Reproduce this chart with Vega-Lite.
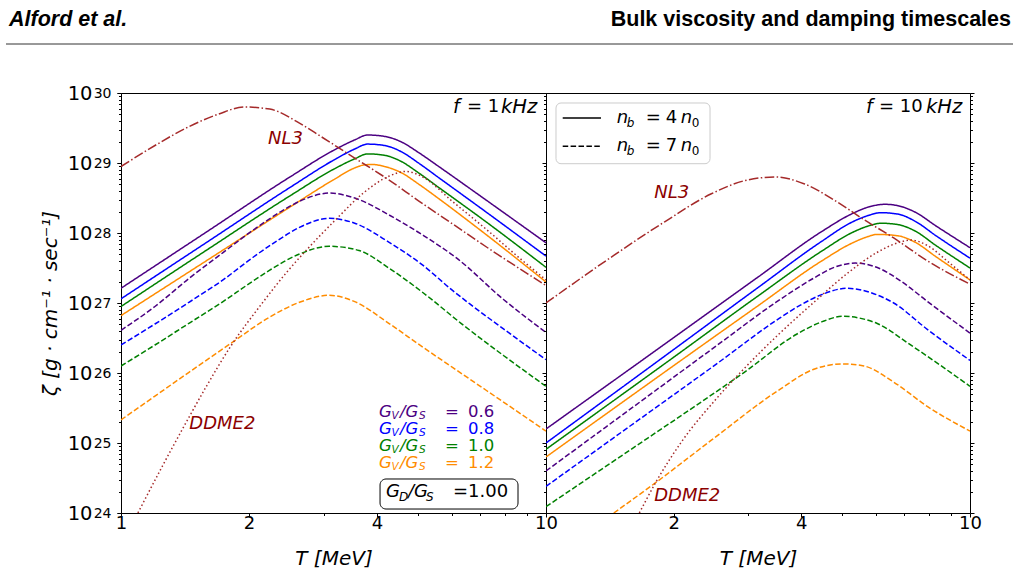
{
  "$schema": "https://vega.github.io/schema/vega-lite/v6.json",
  "background": "white",
  "padding": {"left": 5, "top": 8, "right": 5, "bottom": 5},
  "spacing": 0,
  "bounds": "flush",
  "datasets": {
    "curves": [
      {"panel": "1kHz", "ratio": "0.6", "curve": "4n0", "T": 1, "zeta": 1.622e27},
      {"panel": "1kHz", "ratio": "0.6", "curve": "4n0", "T": 1.585, "zeta": 1.023e28},
      {"panel": "1kHz", "ratio": "0.6", "curve": "4n0", "T": 2.512, "zeta": 6.457e28},
      {"panel": "1kHz", "ratio": "0.6", "curve": "4n0", "T": 3.162, "zeta": 1.514e29},
      {"panel": "1kHz", "ratio": "0.6", "curve": "4n0", "T": 3.548, "zeta": 2.138e29},
      {"panel": "1kHz", "ratio": "0.6", "curve": "4n0", "T": 3.802, "zeta": 2.512e29},
      {"panel": "1kHz", "ratio": "0.6", "curve": "4n0", "T": 4.169, "zeta": 2.399e29},
      {"panel": "1kHz", "ratio": "0.6", "curve": "4n0", "T": 4.571, "zeta": 1.995e29},
      {"panel": "1kHz", "ratio": "0.6", "curve": "4n0", "T": 5.012, "zeta": 1.413e29},
      {"panel": "1kHz", "ratio": "0.6", "curve": "4n0", "T": 5.623, "zeta": 8.71e28},
      {"panel": "1kHz", "ratio": "0.6", "curve": "4n0", "T": 7.079, "zeta": 3.236e28},
      {"panel": "1kHz", "ratio": "0.6", "curve": "4n0", "T": 10, "zeta": 7.244e27},

      {"panel": "1kHz", "ratio": "0.8", "curve": "4n0", "T": 1, "zeta": 1.148e27},
      {"panel": "1kHz", "ratio": "0.8", "curve": "4n0", "T": 1.585, "zeta": 7.244e27},
      {"panel": "1kHz", "ratio": "0.8", "curve": "4n0", "T": 2.512, "zeta": 4.571e28},
      {"panel": "1kHz", "ratio": "0.8", "curve": "4n0", "T": 3.162, "zeta": 1.096e29},
      {"panel": "1kHz", "ratio": "0.8", "curve": "4n0", "T": 3.548, "zeta": 1.585e29},
      {"panel": "1kHz", "ratio": "0.8", "curve": "4n0", "T": 3.802, "zeta": 1.862e29},
      {"panel": "1kHz", "ratio": "0.8", "curve": "4n0", "T": 4.169, "zeta": 1.778e29},
      {"panel": "1kHz", "ratio": "0.8", "curve": "4n0", "T": 4.571, "zeta": 1.445e29},
      {"panel": "1kHz", "ratio": "0.8", "curve": "4n0", "T": 5.012, "zeta": 1.0e29},
      {"panel": "1kHz", "ratio": "0.8", "curve": "4n0", "T": 5.623, "zeta": 6.026e28},
      {"panel": "1kHz", "ratio": "0.8", "curve": "4n0", "T": 7.079, "zeta": 2.188e28},
      {"panel": "1kHz", "ratio": "0.8", "curve": "4n0", "T": 10, "zeta": 4.677e27},

      {"panel": "1kHz", "ratio": "1.0", "curve": "4n0", "T": 1, "zeta": 8.913e26},
      {"panel": "1kHz", "ratio": "1.0", "curve": "4n0", "T": 1.585, "zeta": 5.623e27},
      {"panel": "1kHz", "ratio": "1.0", "curve": "4n0", "T": 2.512, "zeta": 3.467e28},
      {"panel": "1kHz", "ratio": "1.0", "curve": "4n0", "T": 3.162, "zeta": 8.128e28},
      {"panel": "1kHz", "ratio": "1.0", "curve": "4n0", "T": 3.548, "zeta": 1.148e29},
      {"panel": "1kHz", "ratio": "1.0", "curve": "4n0", "T": 3.802, "zeta": 1.349e29},
      {"panel": "1kHz", "ratio": "1.0", "curve": "4n0", "T": 4.169, "zeta": 1.288e29},
      {"panel": "1kHz", "ratio": "1.0", "curve": "4n0", "T": 4.571, "zeta": 1.047e29},
      {"panel": "1kHz", "ratio": "1.0", "curve": "4n0", "T": 5.012, "zeta": 7.244e28},
      {"panel": "1kHz", "ratio": "1.0", "curve": "4n0", "T": 5.623, "zeta": 4.365e28},
      {"panel": "1kHz", "ratio": "1.0", "curve": "4n0", "T": 7.079, "zeta": 1.585e28},
      {"panel": "1kHz", "ratio": "1.0", "curve": "4n0", "T": 10, "zeta": 3.236e27},

      {"panel": "1kHz", "ratio": "1.2", "curve": "4n0", "T": 1, "zeta": 6.607e26},
      {"panel": "1kHz", "ratio": "1.2", "curve": "4n0", "T": 1.585, "zeta": 3.981e27},
      {"panel": "1kHz", "ratio": "1.2", "curve": "4n0", "T": 2.512, "zeta": 2.399e28},
      {"panel": "1kHz", "ratio": "1.2", "curve": "4n0", "T": 3.162, "zeta": 5.754e28},
      {"panel": "1kHz", "ratio": "1.2", "curve": "4n0", "T": 3.548, "zeta": 8.511e28},
      {"panel": "1kHz", "ratio": "1.2", "curve": "4n0", "T": 3.715, "zeta": 9.333e28},
      {"panel": "1kHz", "ratio": "1.2", "curve": "4n0", "T": 3.89, "zeta": 9.55e28},
      {"panel": "1kHz", "ratio": "1.2", "curve": "4n0", "T": 4.169, "zeta": 8.913e28},
      {"panel": "1kHz", "ratio": "1.2", "curve": "4n0", "T": 4.571, "zeta": 7.244e28},
      {"panel": "1kHz", "ratio": "1.2", "curve": "4n0", "T": 5.012, "zeta": 5.012e28},
      {"panel": "1kHz", "ratio": "1.2", "curve": "4n0", "T": 5.623, "zeta": 3.02e28},
      {"panel": "1kHz", "ratio": "1.2", "curve": "4n0", "T": 7.079, "zeta": 1.047e28},
      {"panel": "1kHz", "ratio": "1.2", "curve": "4n0", "T": 10, "zeta": 1.995e27},

      {"panel": "1kHz", "ratio": "0.6", "curve": "7n0", "T": 1, "zeta": 4.074e26},
      {"panel": "1kHz", "ratio": "0.6", "curve": "7n0", "T": 1.202, "zeta": 8.913e26},
      {"panel": "1kHz", "ratio": "0.6", "curve": "7n0", "T": 1.445, "zeta": 2.239e27},
      {"panel": "1kHz", "ratio": "0.6", "curve": "7n0", "T": 1.738, "zeta": 5.248e27},
      {"panel": "1kHz", "ratio": "0.6", "curve": "7n0", "T": 2.089, "zeta": 1.202e28},
      {"panel": "1kHz", "ratio": "0.6", "curve": "7n0", "T": 2.399, "zeta": 2.089e28},
      {"panel": "1kHz", "ratio": "0.6", "curve": "7n0", "T": 2.692, "zeta": 3.02e28},
      {"panel": "1kHz", "ratio": "0.6", "curve": "7n0", "T": 3.09, "zeta": 3.715e28},
      {"panel": "1kHz", "ratio": "0.6", "curve": "7n0", "T": 3.548, "zeta": 3.162e28},
      {"panel": "1kHz", "ratio": "0.6", "curve": "7n0", "T": 4.266, "zeta": 1.82e28},
      {"panel": "1kHz", "ratio": "0.6", "curve": "7n0", "T": 5.129, "zeta": 9.333e27},
      {"panel": "1kHz", "ratio": "0.6", "curve": "7n0", "T": 6.166, "zeta": 4.365e27},
      {"panel": "1kHz", "ratio": "0.6", "curve": "7n0", "T": 7.943, "zeta": 1.122e27},
      {"panel": "1kHz", "ratio": "0.6", "curve": "7n0", "T": 10, "zeta": 3.802e26},

      {"panel": "1kHz", "ratio": "0.8", "curve": "7n0", "T": 1, "zeta": 2.512e26},
      {"panel": "1kHz", "ratio": "0.8", "curve": "7n0", "T": 1.202, "zeta": 5.012e26},
      {"panel": "1kHz", "ratio": "0.8", "curve": "7n0", "T": 1.445, "zeta": 1.023e27},
      {"panel": "1kHz", "ratio": "0.8", "curve": "7n0", "T": 1.738, "zeta": 2.138e27},
      {"panel": "1kHz", "ratio": "0.8", "curve": "7n0", "T": 2.042, "zeta": 4.467e27},
      {"panel": "1kHz", "ratio": "0.8", "curve": "7n0", "T": 2.344, "zeta": 7.943e27},
      {"panel": "1kHz", "ratio": "0.8", "curve": "7n0", "T": 2.63, "zeta": 1.202e28},
      {"panel": "1kHz", "ratio": "0.8", "curve": "7n0", "T": 3.09, "zeta": 1.622e28},
      {"panel": "1kHz", "ratio": "0.8", "curve": "7n0", "T": 3.548, "zeta": 1.38e28},
      {"panel": "1kHz", "ratio": "0.8", "curve": "7n0", "T": 4.266, "zeta": 7.413e27},
      {"panel": "1kHz", "ratio": "0.8", "curve": "7n0", "T": 5.129, "zeta": 3.467e27},
      {"panel": "1kHz", "ratio": "0.8", "curve": "7n0", "T": 6.026, "zeta": 1.514e27},
      {"panel": "1kHz", "ratio": "0.8", "curve": "7n0", "T": 6.607, "zeta": 9.772e26},
      {"panel": "1kHz", "ratio": "0.8", "curve": "7n0", "T": 7.943, "zeta": 4.266e26},
      {"panel": "1kHz", "ratio": "0.8", "curve": "7n0", "T": 10, "zeta": 1.549e26},

      {"panel": "1kHz", "ratio": "1.0", "curve": "7n0", "T": 1, "zeta": 1.259e26},
      {"panel": "1kHz", "ratio": "1.0", "curve": "7n0", "T": 1.202, "zeta": 2.512e26},
      {"panel": "1kHz", "ratio": "1.0", "curve": "7n0", "T": 1.445, "zeta": 5.129e26},
      {"panel": "1kHz", "ratio": "1.0", "curve": "7n0", "T": 1.738, "zeta": 1.047e27},
      {"panel": "1kHz", "ratio": "1.0", "curve": "7n0", "T": 1.995, "zeta": 1.862e27},
      {"panel": "1kHz", "ratio": "1.0", "curve": "7n0", "T": 2.239, "zeta": 2.951e27},
      {"panel": "1kHz", "ratio": "1.0", "curve": "7n0", "T": 2.63, "zeta": 5.012e27},
      {"panel": "1kHz", "ratio": "1.0", "curve": "7n0", "T": 3.09, "zeta": 6.457e27},
      {"panel": "1kHz", "ratio": "1.0", "curve": "7n0", "T": 3.631, "zeta": 5.623e27},
      {"panel": "1kHz", "ratio": "1.0", "curve": "7n0", "T": 4.266, "zeta": 3.162e27},
      {"panel": "1kHz", "ratio": "1.0", "curve": "7n0", "T": 5.129, "zeta": 1.413e27},
      {"panel": "1kHz", "ratio": "1.0", "curve": "7n0", "T": 6.31, "zeta": 5.129e26},
      {"panel": "1kHz", "ratio": "1.0", "curve": "7n0", "T": 7.943, "zeta": 1.778e26},
      {"panel": "1kHz", "ratio": "1.0", "curve": "7n0", "T": 10, "zeta": 6.457e25},

      {"panel": "1kHz", "ratio": "1.2", "curve": "7n0", "T": 1, "zeta": 2.138e25},
      {"panel": "1kHz", "ratio": "1.2", "curve": "7n0", "T": 1.202, "zeta": 4.677e25},
      {"panel": "1kHz", "ratio": "1.2", "curve": "7n0", "T": 1.445, "zeta": 1.023e26},
      {"panel": "1kHz", "ratio": "1.2", "curve": "7n0", "T": 1.82, "zeta": 2.692e26},
      {"panel": "1kHz", "ratio": "1.2", "curve": "7n0", "T": 2.239, "zeta": 6.31e26},
      {"panel": "1kHz", "ratio": "1.2", "curve": "7n0", "T": 2.63, "zeta": 1.023e27},
      {"panel": "1kHz", "ratio": "1.2", "curve": "7n0", "T": 3.09, "zeta": 1.288e27},
      {"panel": "1kHz", "ratio": "1.2", "curve": "7n0", "T": 3.548, "zeta": 1.047e27},
      {"panel": "1kHz", "ratio": "1.2", "curve": "7n0", "T": 4.266, "zeta": 5.129e26},
      {"panel": "1kHz", "ratio": "1.2", "curve": "7n0", "T": 5.129, "zeta": 2.344e26},
      {"panel": "1kHz", "ratio": "1.2", "curve": "7n0", "T": 6.026, "zeta": 1.202e26},
      {"panel": "1kHz", "ratio": "1.2", "curve": "7n0", "T": 7.244, "zeta": 5.623e25},
      {"panel": "1kHz", "ratio": "1.2", "curve": "7n0", "T": 10, "zeta": 1.479e25},

      {"panel": "1kHz", "ratio": "NL3", "curve": "NL3", "T": 1, "zeta": 8.913e28},
      {"panel": "1kHz", "ratio": "NL3", "curve": "NL3", "T": 1.202, "zeta": 1.778e29},
      {"panel": "1kHz", "ratio": "NL3", "curve": "NL3", "T": 1.445, "zeta": 3.311e29},
      {"panel": "1kHz", "ratio": "NL3", "curve": "NL3", "T": 1.698, "zeta": 5.012e29},
      {"panel": "1kHz", "ratio": "NL3", "curve": "NL3", "T": 1.95, "zeta": 6.31e29},
      {"panel": "1kHz", "ratio": "NL3", "curve": "NL3", "T": 2.239, "zeta": 5.888e29},
      {"panel": "1kHz", "ratio": "NL3", "curve": "NL3", "T": 2.63, "zeta": 3.715e29},
      {"panel": "1kHz", "ratio": "NL3", "curve": "NL3", "T": 2.951, "zeta": 2.399e29},
      {"panel": "1kHz", "ratio": "NL3", "curve": "NL3", "T": 3.548, "zeta": 1.175e29},
      {"panel": "1kHz", "ratio": "NL3", "curve": "NL3", "T": 4.266, "zeta": 5.754e28},
      {"panel": "1kHz", "ratio": "NL3", "curve": "NL3", "T": 5.012, "zeta": 2.884e28},
      {"panel": "1kHz", "ratio": "NL3", "curve": "NL3", "T": 6.026, "zeta": 1.349e28},
      {"panel": "1kHz", "ratio": "NL3", "curve": "NL3", "T": 7.244, "zeta": 6.31e27},
      {"panel": "1kHz", "ratio": "NL3", "curve": "NL3", "T": 10, "zeta": 1.778e27},

      {"panel": "1kHz", "ratio": "DDME2", "curve": "DDME2", "T": 1.096, "zeta": 1.0e24},
      {"panel": "1kHz", "ratio": "DDME2", "curve": "DDME2", "T": 1.259, "zeta": 5.012e24},
      {"panel": "1kHz", "ratio": "DDME2", "curve": "DDME2", "T": 1.413, "zeta": 1.82e25},
      {"panel": "1kHz", "ratio": "DDME2", "curve": "DDME2", "T": 1.585, "zeta": 6.31e25},
      {"panel": "1kHz", "ratio": "DDME2", "curve": "DDME2", "T": 1.82, "zeta": 2.512e26},
      {"panel": "1kHz", "ratio": "DDME2", "curve": "DDME2", "T": 2.138, "zeta": 9.55e26},
      {"panel": "1kHz", "ratio": "DDME2", "curve": "DDME2", "T": 2.455, "zeta": 2.754e27},
      {"panel": "1kHz", "ratio": "DDME2", "curve": "DDME2", "T": 2.754, "zeta": 6.026e27},
      {"panel": "1kHz", "ratio": "DDME2", "curve": "DDME2", "T": 3.236, "zeta": 1.66e28},
      {"panel": "1kHz", "ratio": "DDME2", "curve": "DDME2", "T": 3.715, "zeta": 3.715e28},
      {"panel": "1kHz", "ratio": "DDME2", "curve": "DDME2", "T": 4.266, "zeta": 6.457e28},
      {"panel": "1kHz", "ratio": "DDME2", "curve": "DDME2", "T": 4.677, "zeta": 7.586e28},
      {"panel": "1kHz", "ratio": "DDME2", "curve": "DDME2", "T": 5.129, "zeta": 6.31e28},
      {"panel": "1kHz", "ratio": "DDME2", "curve": "DDME2", "T": 6.026, "zeta": 2.818e28},
      {"panel": "1kHz", "ratio": "DDME2", "curve": "DDME2", "T": 7.244, "zeta": 1.122e28},
      {"panel": "1kHz", "ratio": "DDME2", "curve": "DDME2", "T": 8.71, "zeta": 4.266e27},
      {"panel": "1kHz", "ratio": "DDME2", "curve": "DDME2", "T": 10, "zeta": 2.138e27},

      {"panel": "10kHz", "ratio": "0.6", "curve": "4n0", "T": 1, "zeta": 1.585e25},
      {"panel": "10kHz", "ratio": "0.6", "curve": "4n0", "T": 1.995, "zeta": 3.162e26},
      {"panel": "10kHz", "ratio": "0.6", "curve": "4n0", "T": 3.162, "zeta": 2.344e27},
      {"panel": "10kHz", "ratio": "0.6", "curve": "4n0", "T": 4.467, "zeta": 1.047e28},
      {"panel": "10kHz", "ratio": "0.6", "curve": "4n0", "T": 5.248, "zeta": 1.862e28},
      {"panel": "10kHz", "ratio": "0.6", "curve": "4n0", "T": 5.754, "zeta": 2.344e28},
      {"panel": "10kHz", "ratio": "0.6", "curve": "4n0", "T": 6.31, "zeta": 2.57e28},
      {"panel": "10kHz", "ratio": "0.6", "curve": "4n0", "T": 6.761, "zeta": 2.455e28},
      {"panel": "10kHz", "ratio": "0.6", "curve": "4n0", "T": 7.413, "zeta": 1.995e28},
      {"panel": "10kHz", "ratio": "0.6", "curve": "4n0", "T": 8.318, "zeta": 1.259e28},
      {"panel": "10kHz", "ratio": "0.6", "curve": "4n0", "T": 10, "zeta": 6.166e27},

      {"panel": "10kHz", "ratio": "0.8", "curve": "4n0", "T": 1, "zeta": 1.0e25},
      {"panel": "10kHz", "ratio": "0.8", "curve": "4n0", "T": 1.995, "zeta": 2.138e26},
      {"panel": "10kHz", "ratio": "0.8", "curve": "4n0", "T": 3.162, "zeta": 1.66e27},
      {"panel": "10kHz", "ratio": "0.8", "curve": "4n0", "T": 4.467, "zeta": 7.586e27},
      {"panel": "10kHz", "ratio": "0.8", "curve": "4n0", "T": 5.248, "zeta": 1.413e28},
      {"panel": "10kHz", "ratio": "0.8", "curve": "4n0", "T": 5.754, "zeta": 1.778e28},
      {"panel": "10kHz", "ratio": "0.8", "curve": "4n0", "T": 6.166, "zeta": 1.95e28},
      {"panel": "10kHz", "ratio": "0.8", "curve": "4n0", "T": 6.761, "zeta": 1.862e28},
      {"panel": "10kHz", "ratio": "0.8", "curve": "4n0", "T": 7.413, "zeta": 1.479e28},
      {"panel": "10kHz", "ratio": "0.8", "curve": "4n0", "T": 8.318, "zeta": 9.12e27},
      {"panel": "10kHz", "ratio": "0.8", "curve": "4n0", "T": 10, "zeta": 4.365e27},

      {"panel": "10kHz", "ratio": "1.0", "curve": "4n0", "T": 1, "zeta": 8.128e24},
      {"panel": "10kHz", "ratio": "1.0", "curve": "4n0", "T": 1.995, "zeta": 1.66e26},
      {"panel": "10kHz", "ratio": "1.0", "curve": "4n0", "T": 3.162, "zeta": 1.259e27},
      {"panel": "10kHz", "ratio": "1.0", "curve": "4n0", "T": 4.467, "zeta": 5.495e27},
      {"panel": "10kHz", "ratio": "1.0", "curve": "4n0", "T": 5.248, "zeta": 1.0e28},
      {"panel": "10kHz", "ratio": "1.0", "curve": "4n0", "T": 5.754, "zeta": 1.259e28},
      {"panel": "10kHz", "ratio": "1.0", "curve": "4n0", "T": 6.166, "zeta": 1.38e28},
      {"panel": "10kHz", "ratio": "1.0", "curve": "4n0", "T": 6.761, "zeta": 1.318e28},
      {"panel": "10kHz", "ratio": "1.0", "curve": "4n0", "T": 7.413, "zeta": 1.072e28},
      {"panel": "10kHz", "ratio": "1.0", "curve": "4n0", "T": 8.318, "zeta": 6.607e27},
      {"panel": "10kHz", "ratio": "1.0", "curve": "4n0", "T": 10, "zeta": 3.162e27},

      {"panel": "10kHz", "ratio": "1.2", "curve": "4n0", "T": 1, "zeta": 6.31e24},
      {"panel": "10kHz", "ratio": "1.2", "curve": "4n0", "T": 1.995, "zeta": 1.259e26},
      {"panel": "10kHz", "ratio": "1.2", "curve": "4n0", "T": 3.162, "zeta": 9.12e26},
      {"panel": "10kHz", "ratio": "1.2", "curve": "4n0", "T": 4.467, "zeta": 3.981e27},
      {"panel": "10kHz", "ratio": "1.2", "curve": "4n0", "T": 5.248, "zeta": 7.079e27},
      {"panel": "10kHz", "ratio": "1.2", "curve": "4n0", "T": 5.754, "zeta": 8.913e27},
      {"panel": "10kHz", "ratio": "1.2", "curve": "4n0", "T": 6.026, "zeta": 9.55e27},
      {"panel": "10kHz", "ratio": "1.2", "curve": "4n0", "T": 6.761, "zeta": 9.12e27},
      {"panel": "10kHz", "ratio": "1.2", "curve": "4n0", "T": 7.413, "zeta": 7.413e27},
      {"panel": "10kHz", "ratio": "1.2", "curve": "4n0", "T": 8.318, "zeta": 4.571e27},
      {"panel": "10kHz", "ratio": "1.2", "curve": "4n0", "T": 10, "zeta": 2.138e27},

      {"panel": "10kHz", "ratio": "0.6", "curve": "7n0", "T": 1, "zeta": 3.981e24},
      {"panel": "10kHz", "ratio": "0.6", "curve": "7n0", "T": 1.585, "zeta": 3.09e25},
      {"panel": "10kHz", "ratio": "0.6", "curve": "7n0", "T": 2.512, "zeta": 2.399e26},
      {"panel": "10kHz", "ratio": "0.6", "curve": "7n0", "T": 3.467, "zeta": 1.0e27},
      {"panel": "10kHz", "ratio": "0.6", "curve": "7n0", "T": 4.266, "zeta": 2.239e27},
      {"panel": "10kHz", "ratio": "0.6", "curve": "7n0", "T": 4.786, "zeta": 3.236e27},
      {"panel": "10kHz", "ratio": "0.6", "curve": "7n0", "T": 5.37, "zeta": 3.715e27},
      {"panel": "10kHz", "ratio": "0.6", "curve": "7n0", "T": 6.026, "zeta": 3.236e27},
      {"panel": "10kHz", "ratio": "0.6", "curve": "7n0", "T": 6.918, "zeta": 1.995e27},
      {"panel": "10kHz", "ratio": "0.6", "curve": "7n0", "T": 7.943, "zeta": 1.047e27},
      {"panel": "10kHz", "ratio": "0.6", "curve": "7n0", "T": 10, "zeta": 3.715e26},

      {"panel": "10kHz", "ratio": "0.8", "curve": "7n0", "T": 1, "zeta": 2.399e24},
      {"panel": "10kHz", "ratio": "0.8", "curve": "7n0", "T": 1.585, "zeta": 1.778e25},
      {"panel": "10kHz", "ratio": "0.8", "curve": "7n0", "T": 2.512, "zeta": 1.318e26},
      {"panel": "10kHz", "ratio": "0.8", "curve": "7n0", "T": 3.548, "zeta": 6.026e26},
      {"panel": "10kHz", "ratio": "0.8", "curve": "7n0", "T": 3.981, "zeta": 9.333e26},
      {"panel": "10kHz", "ratio": "0.8", "curve": "7n0", "T": 4.467, "zeta": 1.318e27},
      {"panel": "10kHz", "ratio": "0.8", "curve": "7n0", "T": 5.129, "zeta": 1.622e27},
      {"panel": "10kHz", "ratio": "0.8", "curve": "7n0", "T": 5.888, "zeta": 1.38e27},
      {"panel": "10kHz", "ratio": "0.8", "curve": "7n0", "T": 6.607, "zeta": 1.0e27},
      {"panel": "10kHz", "ratio": "0.8", "curve": "7n0", "T": 7.943, "zeta": 4.169e26},
      {"panel": "10kHz", "ratio": "0.8", "curve": "7n0", "T": 10, "zeta": 1.514e26},

      {"panel": "10kHz", "ratio": "1.0", "curve": "7n0", "T": 1, "zeta": 1.23e24},
      {"panel": "10kHz", "ratio": "1.0", "curve": "7n0", "T": 1.738, "zeta": 1.175e25},
      {"panel": "10kHz", "ratio": "1.0", "curve": "7n0", "T": 2.239, "zeta": 3.311e25},
      {"panel": "10kHz", "ratio": "1.0", "curve": "7n0", "T": 2.951, "zeta": 1.047e26},
      {"panel": "10kHz", "ratio": "1.0", "curve": "7n0", "T": 3.89, "zeta": 3.548e26},
      {"panel": "10kHz", "ratio": "1.0", "curve": "7n0", "T": 4.467, "zeta": 5.37e26},
      {"panel": "10kHz", "ratio": "1.0", "curve": "7n0", "T": 5.012, "zeta": 6.457e26},
      {"panel": "10kHz", "ratio": "1.0", "curve": "7n0", "T": 5.623, "zeta": 5.888e26},
      {"panel": "10kHz", "ratio": "1.0", "curve": "7n0", "T": 6.026, "zeta": 5.129e26},
      {"panel": "10kHz", "ratio": "1.0", "curve": "7n0", "T": 7.244, "zeta": 2.512e26},
      {"panel": "10kHz", "ratio": "1.0", "curve": "7n0", "T": 10, "zeta": 6.457e25},

      {"panel": "10kHz", "ratio": "1.2", "curve": "7n0", "T": 1.445, "zeta": 1.0e24},
      {"panel": "10kHz", "ratio": "1.2", "curve": "7n0", "T": 1.82, "zeta": 2.754e24},
      {"panel": "10kHz", "ratio": "1.2", "curve": "7n0", "T": 2.455, "zeta": 1.096e25},
      {"panel": "10kHz", "ratio": "1.2", "curve": "7n0", "T": 3.548, "zeta": 5.754e25},
      {"panel": "10kHz", "ratio": "1.2", "curve": "7n0", "T": 4.266, "zeta": 1.122e26},
      {"panel": "10kHz", "ratio": "1.2", "curve": "7n0", "T": 5.012, "zeta": 1.349e26},
      {"panel": "10kHz", "ratio": "1.2", "curve": "7n0", "T": 5.623, "zeta": 1.259e26},
      {"panel": "10kHz", "ratio": "1.2", "curve": "7n0", "T": 6.607, "zeta": 7.413e25},
      {"panel": "10kHz", "ratio": "1.2", "curve": "7n0", "T": 7.943, "zeta": 3.311e25},
      {"panel": "10kHz", "ratio": "1.2", "curve": "7n0", "T": 10, "zeta": 1.479e25},

      {"panel": "10kHz", "ratio": "NL3", "curve": "NL3", "T": 1, "zeta": 1.0e27},
      {"panel": "10kHz", "ratio": "NL3", "curve": "NL3", "T": 1.445, "zeta": 4.786e27},
      {"panel": "10kHz", "ratio": "NL3", "curve": "NL3", "T": 1.905, "zeta": 1.445e28},
      {"panel": "10kHz", "ratio": "NL3", "curve": "NL3", "T": 2.455, "zeta": 3.631e28},
      {"panel": "10kHz", "ratio": "NL3", "curve": "NL3", "T": 2.951, "zeta": 5.623e28},
      {"panel": "10kHz", "ratio": "NL3", "curve": "NL3", "T": 3.467, "zeta": 6.31e28},
      {"panel": "10kHz", "ratio": "NL3", "curve": "NL3", "T": 4.074, "zeta": 5.012e28},
      {"panel": "10kHz", "ratio": "NL3", "curve": "NL3", "T": 4.786, "zeta": 2.951e28},
      {"panel": "10kHz", "ratio": "NL3", "curve": "NL3", "T": 5.623, "zeta": 1.549e28},
      {"panel": "10kHz", "ratio": "NL3", "curve": "NL3", "T": 6.607, "zeta": 8.511e27},
      {"panel": "10kHz", "ratio": "NL3", "curve": "NL3", "T": 7.943, "zeta": 3.981e27},
      {"panel": "10kHz", "ratio": "NL3", "curve": "NL3", "T": 10, "zeta": 1.862e27},

      {"panel": "10kHz", "ratio": "DDME2", "curve": "DDME2", "T": 1.66, "zeta": 1.0e24},
      {"panel": "10kHz", "ratio": "DDME2", "curve": "DDME2", "T": 1.82, "zeta": 2.818e24},
      {"panel": "10kHz", "ratio": "DDME2", "curve": "DDME2", "T": 2.089, "zeta": 1.047e25},
      {"panel": "10kHz", "ratio": "DDME2", "curve": "DDME2", "T": 2.512, "zeta": 4.169e25},
      {"panel": "10kHz", "ratio": "DDME2", "curve": "DDME2", "T": 2.951, "zeta": 1.202e26},
      {"panel": "10kHz", "ratio": "DDME2", "curve": "DDME2", "T": 3.548, "zeta": 3.631e26},
      {"panel": "10kHz", "ratio": "DDME2", "curve": "DDME2", "T": 4.266, "zeta": 1.0e27},
      {"panel": "10kHz", "ratio": "DDME2", "curve": "DDME2", "T": 5.129, "zeta": 2.63e27},
      {"panel": "10kHz", "ratio": "DDME2", "curve": "DDME2", "T": 6.026, "zeta": 5.248e27},
      {"panel": "10kHz", "ratio": "DDME2", "curve": "DDME2", "T": 6.761, "zeta": 7.244e27},
      {"panel": "10kHz", "ratio": "DDME2", "curve": "DDME2", "T": 7.244, "zeta": 7.943e27},
      {"panel": "10kHz", "ratio": "DDME2", "curve": "DDME2", "T": 7.943, "zeta": 6.607e27},
      {"panel": "10kHz", "ratio": "DDME2", "curve": "DDME2", "T": 8.913, "zeta": 3.802e27},
      {"panel": "10kHz", "ratio": "DDME2", "curve": "DDME2", "T": 10, "zeta": 2.138e27}
    ]
  },
  "hconcat": [
    {
      "width": 425,
      "height": 420,
      "data": {"values": [{}]},
      "resolve": {"axis": {"x": "independent", "y": "independent"}},
      "layer": [
        {
          "data": {"name": "curves"},
          "transform": [{"filter": "datum.panel == '1kHz'"}],
          "mark": {"type": "line", "strokeWidth": 1.5, "interpolate": "monotone", "clip": true},
          "encoding": {
            "x": {
              "field": "T", "type": "quantitative",
              "scale": {"type": "log", "domain": [1, 10], "nice": false},
              "axis": {"orient": "bottom", "values": [1, 2, 4, 10], "labelExpr": "'' + datum.value", "title": "T [MeV]", "tickSize": 4, "labelPadding": -3, "titlePadding": 16, "labelOverlap": false, "labelFlush": false}
            },
            "y": {
              "field": "zeta", "type": "quantitative",
              "scale": {"type": "log", "domain": [1e24, 1e30], "nice": false},
              "axis": {
                "orient": "left",
                "values": [1e24, 1e25, 1e26, 1e27, 1e28, 1e29, 1e30],
                "labelExpr": "'10'",
                "labelFontSize": 19.5,
                "labelDy": 1,
                "title": "ζ [g · cm⁻¹ · sec⁻¹]",
                "tickSize": 4, "labelPadding": 25, "titlePadding": 7, "labelOverlap": false, "labelFlush": false
              }
            },
            "color": {
              "field": "ratio", "type": "nominal", "legend": null,
              "scale": {"domain": ["0.6", "0.8", "1.0", "1.2", "NL3", "DDME2"], "range": ["#4b0082", "#0000ff", "#008000", "#ff8c00", "#a52a2a", "#a52a2a"]}
            },
            "strokeDash": {
              "field": "curve", "type": "nominal", "legend": null,
              "scale": {"domain": ["4n0", "7n0", "NL3", "DDME2"], "range": [[1, 0], [5.5, 2.4], [9.6, 2.4, 1.5, 2.4], [1.5, 2.5]]}
            }
          }
        },
        {
          "mark": {"type": "point", "opacity": 0},
          "encoding": {
            "x": {"datum": 1, "type": "quantitative", "axis": null},
            "y": {"datum": 1e24, "type": "quantitative", "axis": {"orient": "left", "values": [1e24, 1e25, 1e26, 1e27, 1e28, 1e29, 1e30], "labelExpr": "'' + round(log(datum.value) / LN10)", "labelFontSize": 14, "labelDy": -6.5, "labelPadding": 6, "title": null, "tickSize": 4, "labelOverlap": false, "labelFlush": false}}
          }
        },
        {
          "mark": {"type": "point", "opacity": 0},
          "encoding": {
            "x": {"datum": 1, "type": "quantitative", "axis": {"orient": "bottom", "values": [3, 5, 6, 7, 8, 9], "labels": false, "title": null, "tickSize": 2.5}},
            "y": {"datum": 1e24, "type": "quantitative", "axis": {"orient": "left", "labels": false, "title": null, "tickSize": 2.5,
              "values": [2e24, 3e24, 4e24, 5e24, 6e24, 7e24, 8e24, 9e24, 2e25, 3e25, 4e25, 5e25, 6e25, 7e25, 8e25, 9e25, 2e26, 3e26, 4e26, 5e26, 6e26, 7e26, 8e26, 9e26, 2e27, 3e27, 4e27, 5e27, 6e27, 7e27, 8e27, 9e27, 2e28, 3e28, 4e28, 5e28, 6e28, 7e28, 8e28, 9e28, 2e29, 3e29, 4e29, 5e29, 6e29, 7e29, 8e29, 9e29]}}
          }
        },
        {
          "mark": {"type": "rule", "color": "#333333", "strokeWidth": 1, "xOffset": -115, "x2Offset": 467, "yOffset": -49},
          "encoding": {
            "x": {"datum": 1, "type": "quantitative", "axis": null},
            "x2": {"datum": 10},
            "y": {"datum": 1e30, "type": "quantitative", "axis": null}
          }
        },
        {
          "mark": {"type": "text", "text": "Alford et al.", "font": "Liberation Sans", "fontSize": 21.5, "fontWeight": "bold", "fontStyle": "italic", "align": "left", "baseline": "alphabetic", "dx": -112, "dy": -67, "color": "#000"},
          "encoding": {"x": {"datum": 1, "type": "quantitative", "axis": null}, "y": {"datum": 1e30, "type": "quantitative", "axis": null}}
        },
        {
          "mark": {"type": "text", "text": "Bulk viscosity and damping timescales", "font": "Liberation Sans", "fontSize": 21.5, "fontWeight": "bold", "align": "right", "baseline": "alphabetic", "dx": 465, "dy": -67, "color": "#000"},
          "encoding": {"x": {"datum": 10, "type": "quantitative", "axis": null}, "y": {"datum": 1e30, "type": "quantitative", "axis": null}}
        },
        {
          "mark": {"type": "text", "text": "f", "fontSize": 19, "fontStyle": "italic", "align": "left", "baseline": "middle", "dx": -93, "dy": 14, "color": "#000"},
          "encoding": {"x": {"datum": 10, "type": "quantitative", "axis": null}, "y": {"datum": 1e30, "type": "quantitative", "axis": null}}
        },
        {
          "mark": {"type": "text", "text": "= 1", "fontSize": 18, "align": "left", "baseline": "middle", "dx": -79, "dy": 14, "color": "#000"},
          "encoding": {"x": {"datum": 10, "type": "quantitative", "axis": null}, "y": {"datum": 1e30, "type": "quantitative", "axis": null}}
        },
        {
          "mark": {"type": "text", "text": "kHz", "fontSize": 19.5, "fontStyle": "italic", "align": "left", "baseline": "middle", "dx": -45, "dy": 14, "color": "#000"},
          "encoding": {"x": {"datum": 10, "type": "quantitative", "axis": null}, "y": {"datum": 1e30, "type": "quantitative", "axis": null}}
        },
        {
          "mark": {"type": "text", "text": "NL3", "fontSize": 18, "fontStyle": "italic", "align": "left", "baseline": "middle", "color": "#8b0000"},
          "encoding": {"x": {"datum": 2.218, "type": "quantitative", "axis": null}, "y": {"datum": 2.17e29, "type": "quantitative", "axis": null}}
        },
        {
          "mark": {"type": "text", "text": "DDME2", "fontSize": 18, "fontStyle": "italic", "align": "left", "baseline": "middle", "color": "#8b0000"},
          "encoding": {"x": {"datum": 1.448, "type": "quantitative", "axis": null}, "y": {"datum": 1.88e25, "type": "quantitative", "axis": null}}
        },

        {"mark": {"type": "text", "text": "G", "fontSize": 16.5, "fontStyle": "italic", "align": "left", "baseline": "middle", "dx": 0, "dy": 0, "color": "#4b0082"}, "encoding": {"x": {"datum": 4.047, "type": "quantitative", "axis": null}, "y": {"datum": 2.818e25, "type": "quantitative", "axis": null}}},
        {"mark": {"type": "text", "text": "V", "fontSize": 10.5, "fontStyle": "italic", "align": "left", "baseline": "middle", "dx": 12.5, "dy": 4.5, "color": "#4b0082"}, "encoding": {"x": {"datum": 4.047, "type": "quantitative", "axis": null}, "y": {"datum": 2.818e25, "type": "quantitative", "axis": null}}},
        {"mark": {"type": "text", "text": "/G", "fontSize": 16.5, "fontStyle": "italic", "align": "left", "baseline": "middle", "dx": 21, "dy": 0, "color": "#4b0082"}, "encoding": {"x": {"datum": 4.047, "type": "quantitative", "axis": null}, "y": {"datum": 2.818e25, "type": "quantitative", "axis": null}}},
        {"mark": {"type": "text", "text": "S", "fontSize": 10.5, "fontStyle": "italic", "align": "left", "baseline": "middle", "dx": 40, "dy": 4.5, "color": "#4b0082"}, "encoding": {"x": {"datum": 4.047, "type": "quantitative", "axis": null}, "y": {"datum": 2.818e25, "type": "quantitative", "axis": null}}},
        {"mark": {"type": "text", "text": "=", "fontSize": 16.5, "align": "left", "baseline": "middle", "dx": 66, "dy": 0, "color": "#4b0082"}, "encoding": {"x": {"datum": 4.047, "type": "quantitative", "axis": null}, "y": {"datum": 2.818e25, "type": "quantitative", "axis": null}}},
        {"mark": {"type": "text", "text": "0.6", "fontSize": 16.5, "align": "left", "baseline": "middle", "dx": 89, "dy": 0, "color": "#4b0082"}, "encoding": {"x": {"datum": 4.047, "type": "quantitative", "axis": null}, "y": {"datum": 2.818e25, "type": "quantitative", "axis": null}}},

        {"mark": {"type": "text", "text": "G", "fontSize": 16.5, "fontStyle": "italic", "align": "left", "baseline": "middle", "dx": 0, "dy": 17, "color": "#0000ff"}, "encoding": {"x": {"datum": 4.047, "type": "quantitative", "axis": null}, "y": {"datum": 2.818e25, "type": "quantitative", "axis": null}}},
        {"mark": {"type": "text", "text": "V", "fontSize": 10.5, "fontStyle": "italic", "align": "left", "baseline": "middle", "dx": 12.5, "dy": 21.5, "color": "#0000ff"}, "encoding": {"x": {"datum": 4.047, "type": "quantitative", "axis": null}, "y": {"datum": 2.818e25, "type": "quantitative", "axis": null}}},
        {"mark": {"type": "text", "text": "/G", "fontSize": 16.5, "fontStyle": "italic", "align": "left", "baseline": "middle", "dx": 21, "dy": 17, "color": "#0000ff"}, "encoding": {"x": {"datum": 4.047, "type": "quantitative", "axis": null}, "y": {"datum": 2.818e25, "type": "quantitative", "axis": null}}},
        {"mark": {"type": "text", "text": "S", "fontSize": 10.5, "fontStyle": "italic", "align": "left", "baseline": "middle", "dx": 40, "dy": 21.5, "color": "#0000ff"}, "encoding": {"x": {"datum": 4.047, "type": "quantitative", "axis": null}, "y": {"datum": 2.818e25, "type": "quantitative", "axis": null}}},
        {"mark": {"type": "text", "text": "=", "fontSize": 16.5, "align": "left", "baseline": "middle", "dx": 66, "dy": 17, "color": "#0000ff"}, "encoding": {"x": {"datum": 4.047, "type": "quantitative", "axis": null}, "y": {"datum": 2.818e25, "type": "quantitative", "axis": null}}},
        {"mark": {"type": "text", "text": "0.8", "fontSize": 16.5, "align": "left", "baseline": "middle", "dx": 89, "dy": 17, "color": "#0000ff"}, "encoding": {"x": {"datum": 4.047, "type": "quantitative", "axis": null}, "y": {"datum": 2.818e25, "type": "quantitative", "axis": null}}},

        {"mark": {"type": "text", "text": "G", "fontSize": 16.5, "fontStyle": "italic", "align": "left", "baseline": "middle", "dx": 0, "dy": 34, "color": "#008000"}, "encoding": {"x": {"datum": 4.047, "type": "quantitative", "axis": null}, "y": {"datum": 2.818e25, "type": "quantitative", "axis": null}}},
        {"mark": {"type": "text", "text": "V", "fontSize": 10.5, "fontStyle": "italic", "align": "left", "baseline": "middle", "dx": 12.5, "dy": 38.5, "color": "#008000"}, "encoding": {"x": {"datum": 4.047, "type": "quantitative", "axis": null}, "y": {"datum": 2.818e25, "type": "quantitative", "axis": null}}},
        {"mark": {"type": "text", "text": "/G", "fontSize": 16.5, "fontStyle": "italic", "align": "left", "baseline": "middle", "dx": 21, "dy": 34, "color": "#008000"}, "encoding": {"x": {"datum": 4.047, "type": "quantitative", "axis": null}, "y": {"datum": 2.818e25, "type": "quantitative", "axis": null}}},
        {"mark": {"type": "text", "text": "S", "fontSize": 10.5, "fontStyle": "italic", "align": "left", "baseline": "middle", "dx": 40, "dy": 38.5, "color": "#008000"}, "encoding": {"x": {"datum": 4.047, "type": "quantitative", "axis": null}, "y": {"datum": 2.818e25, "type": "quantitative", "axis": null}}},
        {"mark": {"type": "text", "text": "=", "fontSize": 16.5, "align": "left", "baseline": "middle", "dx": 66, "dy": 34, "color": "#008000"}, "encoding": {"x": {"datum": 4.047, "type": "quantitative", "axis": null}, "y": {"datum": 2.818e25, "type": "quantitative", "axis": null}}},
        {"mark": {"type": "text", "text": "1.0", "fontSize": 16.5, "align": "left", "baseline": "middle", "dx": 89, "dy": 34, "color": "#008000"}, "encoding": {"x": {"datum": 4.047, "type": "quantitative", "axis": null}, "y": {"datum": 2.818e25, "type": "quantitative", "axis": null}}},

        {"mark": {"type": "text", "text": "G", "fontSize": 16.5, "fontStyle": "italic", "align": "left", "baseline": "middle", "dx": 0, "dy": 51, "color": "#ff8c00"}, "encoding": {"x": {"datum": 4.047, "type": "quantitative", "axis": null}, "y": {"datum": 2.818e25, "type": "quantitative", "axis": null}}},
        {"mark": {"type": "text", "text": "V", "fontSize": 10.5, "fontStyle": "italic", "align": "left", "baseline": "middle", "dx": 12.5, "dy": 55.5, "color": "#ff8c00"}, "encoding": {"x": {"datum": 4.047, "type": "quantitative", "axis": null}, "y": {"datum": 2.818e25, "type": "quantitative", "axis": null}}},
        {"mark": {"type": "text", "text": "/G", "fontSize": 16.5, "fontStyle": "italic", "align": "left", "baseline": "middle", "dx": 21, "dy": 51, "color": "#ff8c00"}, "encoding": {"x": {"datum": 4.047, "type": "quantitative", "axis": null}, "y": {"datum": 2.818e25, "type": "quantitative", "axis": null}}},
        {"mark": {"type": "text", "text": "S", "fontSize": 10.5, "fontStyle": "italic", "align": "left", "baseline": "middle", "dx": 40, "dy": 55.5, "color": "#ff8c00"}, "encoding": {"x": {"datum": 4.047, "type": "quantitative", "axis": null}, "y": {"datum": 2.818e25, "type": "quantitative", "axis": null}}},
        {"mark": {"type": "text", "text": "=", "fontSize": 16.5, "align": "left", "baseline": "middle", "dx": 66, "dy": 51, "color": "#ff8c00"}, "encoding": {"x": {"datum": 4.047, "type": "quantitative", "axis": null}, "y": {"datum": 2.818e25, "type": "quantitative", "axis": null}}},
        {"mark": {"type": "text", "text": "1.2", "fontSize": 16.5, "align": "left", "baseline": "middle", "dx": 89, "dy": 51, "color": "#ff8c00"}, "encoding": {"x": {"datum": 4.047, "type": "quantitative", "axis": null}, "y": {"datum": 2.818e25, "type": "quantitative", "axis": null}}},

        {
          "mark": {"type": "rect", "fill": "white", "stroke": "#000", "strokeWidth": 1, "cornerRadius": 6},
          "encoding": {
            "x": {"datum": 4.069, "type": "quantitative", "axis": null}, "x2": {"datum": 8.593},
            "y": {"datum": 3.06e24, "type": "quantitative", "axis": null}, "y2": {"datum": 1.14e24}
          }
        },
        {"mark": {"type": "text", "text": "G", "fontSize": 18, "fontStyle": "italic", "align": "left", "baseline": "middle", "dx": 6, "dy": 0, "color": "#000"}, "encoding": {"x": {"datum": 4.069, "type": "quantitative", "axis": null}, "y": {"datum": 1.963e24, "type": "quantitative", "axis": null}}},
        {"mark": {"type": "text", "text": "D", "fontSize": 12, "fontStyle": "italic", "align": "left", "baseline": "middle", "dx": 19, "dy": 5, "color": "#000"}, "encoding": {"x": {"datum": 4.069, "type": "quantitative", "axis": null}, "y": {"datum": 1.963e24, "type": "quantitative", "axis": null}}},
        {"mark": {"type": "text", "text": "/G", "fontSize": 18, "fontStyle": "italic", "align": "left", "baseline": "middle", "dx": 28, "dy": 0, "color": "#000"}, "encoding": {"x": {"datum": 4.069, "type": "quantitative", "axis": null}, "y": {"datum": 1.963e24, "type": "quantitative", "axis": null}}},
        {"mark": {"type": "text", "text": "S", "fontSize": 12, "fontStyle": "italic", "align": "left", "baseline": "middle", "dx": 46, "dy": 5, "color": "#000"}, "encoding": {"x": {"datum": 4.069, "type": "quantitative", "axis": null}, "y": {"datum": 1.963e24, "type": "quantitative", "axis": null}}},
        {"mark": {"type": "text", "text": "=1.00", "fontSize": 18, "align": "left", "baseline": "middle", "dx": 73, "dy": 0, "color": "#000"}, "encoding": {"x": {"datum": 4.069, "type": "quantitative", "axis": null}, "y": {"datum": 1.963e24, "type": "quantitative", "axis": null}}}
      ]
    },
    {
      "width": 424,
      "height": 420,
      "data": {"values": [{}]},
      "resolve": {"axis": {"x": "independent", "y": "independent"}},
      "layer": [
        {
          "data": {"name": "curves"},
          "transform": [{"filter": "datum.panel == '10kHz'"}],
          "mark": {"type": "line", "strokeWidth": 1.5, "interpolate": "monotone", "clip": true},
          "encoding": {
            "x": {
              "field": "T", "type": "quantitative",
              "scale": {"type": "log", "domain": [1, 10], "nice": false},
              "axis": {"orient": "bottom", "values": [2, 4, 10], "labelExpr": "'' + datum.value", "title": "T [MeV]", "tickSize": 4, "labelPadding": -3, "titlePadding": 16, "labelOverlap": false, "labelFlush": false}
            },
            "y": {
              "field": "zeta", "type": "quantitative",
              "scale": {"type": "log", "domain": [1e24, 1e30], "nice": false},
              "axis": {"orient": "left", "values": [1e24, 1e25, 1e26, 1e27, 1e28, 1e29, 1e30], "labels": false, "title": null, "tickSize": 4}
            },
            "color": {
              "field": "ratio", "type": "nominal", "legend": null,
              "scale": {"domain": ["0.6", "0.8", "1.0", "1.2", "NL3", "DDME2"], "range": ["#4b0082", "#0000ff", "#008000", "#ff8c00", "#a52a2a", "#a52a2a"]}
            },
            "strokeDash": {
              "field": "curve", "type": "nominal", "legend": null,
              "scale": {"domain": ["4n0", "7n0", "NL3", "DDME2"], "range": [[1, 0], [5.5, 2.4], [9.6, 2.4, 1.5, 2.4], [1.5, 2.5]]}
            }
          }
        },
        {
          "mark": {"type": "point", "opacity": 0},
          "encoding": {
            "x": {"datum": 1, "type": "quantitative", "axis": {"orient": "bottom", "values": [3, 5, 6, 7, 8, 9], "labels": false, "title": null, "tickSize": 2.5}},
            "y": {"datum": 1e24, "type": "quantitative", "axis": {"orient": "left", "labels": false, "title": null, "tickSize": 2.5,
              "values": [2e24, 3e24, 4e24, 5e24, 6e24, 7e24, 8e24, 9e24, 2e25, 3e25, 4e25, 5e25, 6e25, 7e25, 8e25, 9e25, 2e26, 3e26, 4e26, 5e26, 6e26, 7e26, 8e26, 9e26, 2e27, 3e27, 4e27, 5e27, 6e27, 7e27, 8e27, 9e27, 2e28, 3e28, 4e28, 5e28, 6e28, 7e28, 8e28, 9e28, 2e29, 3e29, 4e29, 5e29, 6e29, 7e29, 8e29, 9e29]}}
          }
        },
        {
          "mark": {"type": "point", "opacity": 0},
          "encoding": {
            "x": {"datum": 1, "type": "quantitative", "axis": null},
            "y": {"datum": 1e24, "type": "quantitative", "axis": {"orient": "right", "values": [1e24, 1e25, 1e26, 1e27, 1e28, 1e29, 1e30], "labels": false, "title": null, "tickSize": 4}}
          }
        },
        {
          "mark": {"type": "point", "opacity": 0},
          "encoding": {
            "x": {"datum": 1, "type": "quantitative", "axis": null},
            "y": {"datum": 1e24, "type": "quantitative", "axis": {"orient": "right", "labels": false, "title": null, "tickSize": 2.5,
              "values": [2e24, 3e24, 4e24, 5e24, 6e24, 7e24, 8e24, 9e24, 2e25, 3e25, 4e25, 5e25, 6e25, 7e25, 8e25, 9e25, 2e26, 3e26, 4e26, 5e26, 6e26, 7e26, 8e26, 9e26, 2e27, 3e27, 4e27, 5e27, 6e27, 7e27, 8e27, 9e27, 2e28, 3e28, 4e28, 5e28, 6e28, 7e28, 8e28, 9e28, 2e29, 3e29, 4e29, 5e29, 6e29, 7e29, 8e29, 9e29]}}
          }
        },
        {
          "mark": {"type": "text", "text": "f", "fontSize": 19, "fontStyle": "italic", "align": "left", "baseline": "middle", "dx": -104, "dy": 14, "color": "#000"},
          "encoding": {"x": {"datum": 10, "type": "quantitative", "axis": null}, "y": {"datum": 1e30, "type": "quantitative", "axis": null}}
        },
        {
          "mark": {"type": "text", "text": "= 10", "fontSize": 18, "align": "left", "baseline": "middle", "dx": -91, "dy": 14, "color": "#000"},
          "encoding": {"x": {"datum": 10, "type": "quantitative", "axis": null}, "y": {"datum": 1e30, "type": "quantitative", "axis": null}}
        },
        {
          "mark": {"type": "text", "text": "kHz", "fontSize": 19.5, "fontStyle": "italic", "align": "left", "baseline": "middle", "dx": -44, "dy": 14, "color": "#000"},
          "encoding": {"x": {"datum": 10, "type": "quantitative", "axis": null}, "y": {"datum": 1e30, "type": "quantitative", "axis": null}}
        },
        {
          "mark": {"type": "text", "text": "NL3", "fontSize": 18, "fontStyle": "italic", "align": "left", "baseline": "middle", "color": "#8b0000"},
          "encoding": {"x": {"datum": 1.8, "type": "quantitative", "axis": null}, "y": {"datum": 3.73e28, "type": "quantitative", "axis": null}}
        },
        {
          "mark": {"type": "text", "text": "DDME2", "fontSize": 18, "fontStyle": "italic", "align": "left", "baseline": "middle", "color": "#8b0000"},
          "encoding": {"x": {"datum": 1.8, "type": "quantitative", "axis": null}, "y": {"datum": 1.778e24, "type": "quantitative", "axis": null}}
        },
        {
          "mark": {"type": "rect", "fill": "white", "fillOpacity": 0.8, "stroke": "#cccccc", "strokeWidth": 1, "cornerRadius": 5},
          "encoding": {
            "x": {"datum": 1.0558, "type": "quantitative", "axis": null}, "x2": {"datum": 2.437},
            "y": {"datum": 7.2e29, "type": "quantitative", "axis": null}, "y2": {"datum": 9.77e28}
          }
        },
        {
          "mark": {"type": "rule", "color": "#000", "strokeWidth": 1.5},
          "encoding": {"x": {"datum": 1.095, "type": "quantitative", "axis": null}, "x2": {"datum": 1.348}, "y": {"datum": 4.39e29, "type": "quantitative", "axis": null}}
        },
        {
          "mark": {"type": "rule", "color": "#000", "strokeWidth": 1.5, "strokeDash": [5.5, 2.4]},
          "encoding": {"x": {"datum": 1.095, "type": "quantitative", "axis": null}, "x2": {"datum": 1.348}, "y": {"datum": 1.734e29, "type": "quantitative", "axis": null}}
        },
        {"mark": {"type": "text", "text": "n", "fontSize": 18, "fontStyle": "italic", "align": "left", "baseline": "middle", "dx": 0, "dy": 0, "color": "#000"}, "encoding": {"x": {"datum": 1.468, "type": "quantitative", "axis": null}, "y": {"datum": 4.39e29, "type": "quantitative", "axis": null}}},
        {"mark": {"type": "text", "text": "b", "fontSize": 12, "fontStyle": "italic", "align": "left", "baseline": "middle", "dx": 10, "dy": 5, "color": "#000"}, "encoding": {"x": {"datum": 1.468, "type": "quantitative", "axis": null}, "y": {"datum": 4.39e29, "type": "quantitative", "axis": null}}},
        {"mark": {"type": "text", "text": "=", "fontSize": 18, "align": "left", "baseline": "middle", "dx": 29, "dy": 0, "color": "#000"}, "encoding": {"x": {"datum": 1.468, "type": "quantitative", "axis": null}, "y": {"datum": 4.39e29, "type": "quantitative", "axis": null}}},
        {"mark": {"type": "text", "text": "4", "fontSize": 18, "align": "left", "baseline": "middle", "dx": 49, "dy": 0, "color": "#000"}, "encoding": {"x": {"datum": 1.468, "type": "quantitative", "axis": null}, "y": {"datum": 4.39e29, "type": "quantitative", "axis": null}}},
        {"mark": {"type": "text", "text": "n", "fontSize": 18, "fontStyle": "italic", "align": "left", "baseline": "middle", "dx": 64, "dy": 0, "color": "#000"}, "encoding": {"x": {"datum": 1.468, "type": "quantitative", "axis": null}, "y": {"datum": 4.39e29, "type": "quantitative", "axis": null}}},
        {"mark": {"type": "text", "text": "0", "fontSize": 12, "align": "left", "baseline": "middle", "dx": 75, "dy": 5, "color": "#000"}, "encoding": {"x": {"datum": 1.468, "type": "quantitative", "axis": null}, "y": {"datum": 4.39e29, "type": "quantitative", "axis": null}}},
        {"mark": {"type": "text", "text": "n", "fontSize": 18, "fontStyle": "italic", "align": "left", "baseline": "middle", "dx": 0, "dy": 0, "color": "#000"}, "encoding": {"x": {"datum": 1.468, "type": "quantitative", "axis": null}, "y": {"datum": 1.734e29, "type": "quantitative", "axis": null}}},
        {"mark": {"type": "text", "text": "b", "fontSize": 12, "fontStyle": "italic", "align": "left", "baseline": "middle", "dx": 10, "dy": 5, "color": "#000"}, "encoding": {"x": {"datum": 1.468, "type": "quantitative", "axis": null}, "y": {"datum": 1.734e29, "type": "quantitative", "axis": null}}},
        {"mark": {"type": "text", "text": "=", "fontSize": 18, "align": "left", "baseline": "middle", "dx": 29, "dy": 0, "color": "#000"}, "encoding": {"x": {"datum": 1.468, "type": "quantitative", "axis": null}, "y": {"datum": 1.734e29, "type": "quantitative", "axis": null}}},
        {"mark": {"type": "text", "text": "7", "fontSize": 18, "align": "left", "baseline": "middle", "dx": 49, "dy": 0, "color": "#000"}, "encoding": {"x": {"datum": 1.468, "type": "quantitative", "axis": null}, "y": {"datum": 1.734e29, "type": "quantitative", "axis": null}}},
        {"mark": {"type": "text", "text": "n", "fontSize": 18, "fontStyle": "italic", "align": "left", "baseline": "middle", "dx": 64, "dy": 0, "color": "#000"}, "encoding": {"x": {"datum": 1.468, "type": "quantitative", "axis": null}, "y": {"datum": 1.734e29, "type": "quantitative", "axis": null}}},
        {"mark": {"type": "text", "text": "0", "fontSize": 12, "align": "left", "baseline": "middle", "dx": 75, "dy": 5, "color": "#000"}, "encoding": {"x": {"datum": 1.468, "type": "quantitative", "axis": null}, "y": {"datum": 1.734e29, "type": "quantitative", "axis": null}}}
      ]
    }
  ],
  "config": {
    "view": {"stroke": "#000", "strokeWidth": 1},
    "text": {"font": "DejaVu Sans"},
    "axis": {
      "labelFont": "DejaVu Sans", "titleFont": "DejaVu Sans",
      "labelFontSize": 18, "titleFontSize": 20, "titleFontWeight": "normal", "titleFontStyle": "italic",
      "labelColor": "#000", "titleColor": "#000", "tickColor": "#000",
      "domain": false, "grid": false
    }
  }
}
